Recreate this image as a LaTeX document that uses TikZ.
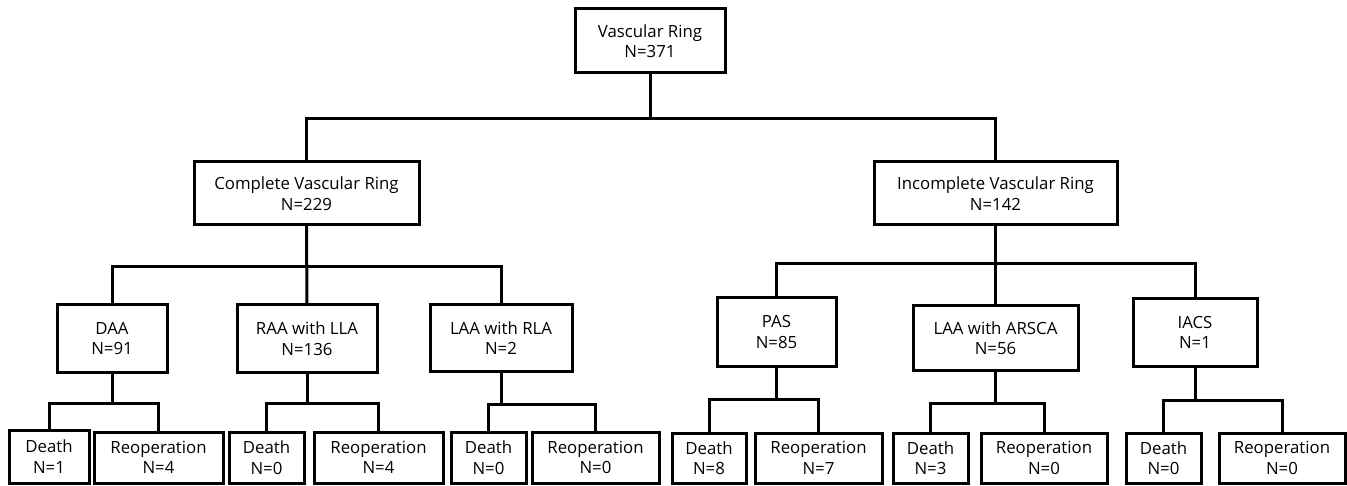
\documentclass[tikz,border=0pt]{standalone}
\usepackage{fontspec}
\setmainfont{Open Sans}
\begin{document}
\begin{tikzpicture}[x=1pt,y=-1pt,
  box/.style={draw=black,line width=3pt,inner sep=0pt,align=center,
    font=\fontsize{16.8}{20.5}\selectfont,text=black},
  conn/.style={draw=black,line width=3pt}]
\useasboundingbox (0,0) rectangle (1347,486);
% level 0
\node[box,minimum width=150,minimum height=64] (top) at (650,41) {Vascular Ring\\N=371};
% level 1
\node[box,minimum width=225,minimum height=63] (comp) at (306.5,193.5) {Complete Vascular Ring\\N=229};
\node[box,minimum width=243,minimum height=63] (inc) at (995.5,193.5) {Incomplete Vascular Ring\\N=142};
% level 2
\node[box,minimum width=110,minimum height=67] (daa) at (112,338.5) {DAA\\N=91};
\node[box,minimum width=140,minimum height=67] (raa) at (307,338.5) {RAA with LLA\\N=136};
\node[box,minimum width=142,minimum height=66] (laa) at (501,338) {LAA with RLA\\N=2};
\node[box,minimum width=119,minimum height=68] (pas) at (776.5,332) {PAS\\N=85};
\node[box,minimum width=165,minimum height=64] (ars) at (995.5,338) {LAA with ARSCA\\N=56};
\node[box,minimum width=124,minimum height=67] (iacs) at (1195,332.5) {IACS\\N=1};
% level 3
\node[box,minimum width=80,minimum height=53] (d1) at (49,456.5) {Death\\N=1};
\node[box,minimum width=129,minimum height=51] (r1) at (158.5,457.5) {Reoperation\\N=4};
\node[box,minimum width=75,minimum height=51] (d2) at (266.5,457.5) {Death\\N=0};
\node[box,minimum width=129,minimum height=51] (r2) at (378.5,457.5) {Reoperation\\N=4};
\node[box,minimum width=75,minimum height=51] (d3) at (488.5,457.5) {Death\\N=0};
\node[box,minimum width=127,minimum height=51] (r3) at (595.5,457.5) {Reoperation\\N=0};
\node[box,minimum width=74,minimum height=50] (d4) at (709,458) {Death\\N=8};
\node[box,minimum width=127,minimum height=50] (r4) at (818.5,458) {Reoperation\\N=7};
\node[box,minimum width=75,minimum height=50] (d5) at (930.5,458) {Death\\N=3};
\node[box,minimum width=126,minimum height=50] (r5) at (1044,458) {Reoperation\\N=0};
\node[box,minimum width=75,minimum height=50] (d6) at (1163.5,458) {Death\\N=0};
\node[box,minimum width=126,minimum height=50] (r6) at (1282,458) {Reoperation\\N=0};
% connectors
\draw[conn] (top.south) -- ++(0,44) -| (comp.north);
\draw[conn] (top.south) -- ++(0,44) -| (inc.north);
\draw[conn] (comp.south) -- ++(0,40) -| (daa.north);
\draw[conn] (comp.south) -- (raa.north);
\draw[conn] (comp.south) -- ++(0,40) -| (laa.north);
\draw[conn] (inc.south) -- ++(0,37) -| (pas.north);
\draw[conn] (inc.south) -- (ars.north);
\draw[conn] (inc.south) -- ++(0,37) -| (iacs.north);
\draw[conn] (daa.south) -- ++(0,30) -| (d1.north);
\draw[conn] (daa.south) -- ++(0,30) -| (r1.north);
\draw[conn] (raa.south) -- ++(0,30) -| (d2.north);
\draw[conn] (raa.south) -- ++(0,30) -| (r2.north);
\draw[conn] (laa.south) -- ++(0,32) -| (d3.north);
\draw[conn] (laa.south) -- ++(0,32) -| (r3.north);
\draw[conn] (pas.south) -- ++(0,32) -| (d4.north);
\draw[conn] (pas.south) -- ++(0,32) -| (r4.north);
\draw[conn] (ars.south) -- ++(0,32) -| (d5.north);
\draw[conn] (ars.south) -- ++(0,32) -| (r5.north);
\draw[conn] (iacs.south) -- ++(0,33) -| (d6.north);
\draw[conn] (iacs.south) -- ++(0,33) -| (r6.north);
\end{tikzpicture}
\end{document}
